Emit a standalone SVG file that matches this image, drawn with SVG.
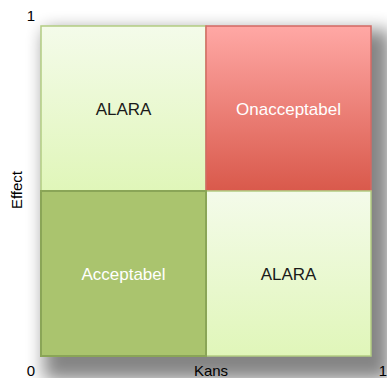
<svg xmlns="http://www.w3.org/2000/svg" width="387" height="378" viewBox="0 0 387 378">
  <defs>
    <linearGradient id="gAlara" x1="0" y1="0" x2="0" y2="1">
      <stop offset="0" stop-color="#f4fbea"/>
      <stop offset="1" stop-color="#e0f6b9"/>
    </linearGradient>
    <linearGradient id="gRed" x1="0" y1="0" x2="0" y2="1">
      <stop offset="0" stop-color="#ffa8a5"/>
      <stop offset="1" stop-color="#d9594b"/>
    </linearGradient>
    <filter id="soft" x="-30%" y="-30%" width="160%" height="160%">
      <feGaussianBlur stdDeviation="9"/>
    </filter>
  </defs>
  <style>
    .lbl { font-family: "Liberation Sans", Arial, sans-serif; font-size: 17px; text-anchor: middle; }
    .axis { font-family: "Liberation Sans", Arial, sans-serif; font-size: 15px; fill: #000; text-anchor: middle; }
    .alara rect { fill: url(#gAlara); stroke: #b3cd82; stroke-width: 1.5; }
    .alara text { fill: #1a1a1a; }
  </style>

  <rect width="387" height="378" fill="#ffffff"/>
  <!-- soft shadow under the matrix -->
  <rect x="44" y="30" width="346" height="350" fill="#000" opacity="0.48" filter="url(#soft)"/>

  <g id="cells">
    <g id="alara-top" class="alara">
      <rect x="41" y="26" width="165" height="165"/>
      <text class="lbl" x="123.5" y="114.5">ALARA</text>
    </g>
    <g id="onacceptabel">
      <rect x="206" y="26" width="165" height="165" fill="url(#gRed)" stroke="#d36a64" stroke-width="1.5"/>
      <text class="lbl" x="288.5" y="114.5" fill="#ffffff">Onacceptabel</text>
    </g>
    <g id="alara-bottom" class="alara">
      <rect x="206" y="191" width="165" height="165"/>
      <text class="lbl" x="288.5" y="279.5">ALARA</text>
    </g>
    <g id="acceptabel">
      <rect x="41" y="191" width="165" height="165" fill="#aac46e" stroke="#8aa557" stroke-width="2"/>
      <text class="lbl" x="123.5" y="279.5" fill="#ffffff">Acceptabel</text>
    </g>
  </g>

  <g id="axes">
    <text class="axis" x="31" y="21">1</text>
    <text class="axis" x="31" y="376">0</text>
    <text class="axis" x="211" y="376">Kans</text>
    <text class="axis" x="383" y="376">1</text>
    <text class="axis" transform="translate(22 190) rotate(-90)">Effect</text>
  </g>
</svg>
